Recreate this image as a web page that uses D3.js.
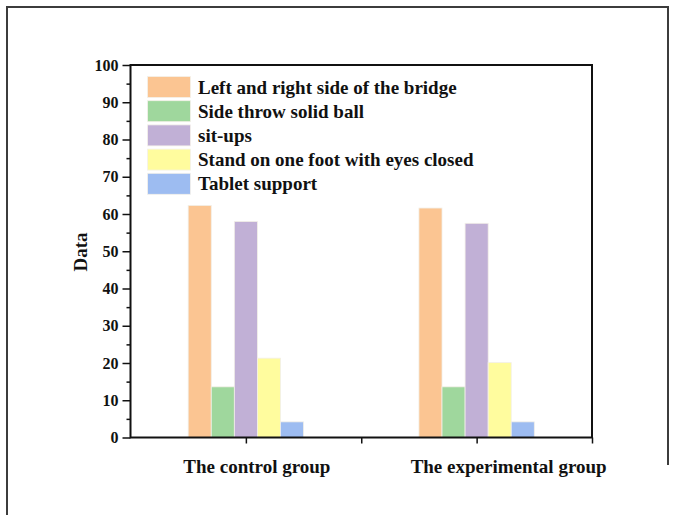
<!DOCTYPE html>
<html><head><meta charset="utf-8">
<script src="https://cdn.jsdelivr.net/npm/d3@7"></script>
<style>body{margin:0;background:#fff}svg{display:block}text{font-family:"Liberation Serif","Times New Roman",serif;font-weight:bold;fill:#111}</style>
</head><body><div id="chart"></div>
<script>
const groups = ["The control group", "The experimental group"];
const series = ["Left and right side of the bridge", "Side throw solid ball", "sit-ups", "Stand on one foot with eyes closed", "Tablet support"];
const colors = ["#FBC592", "#9FD79D", "#C1B0D6", "#FFFC9E", "#9DBCF1"];
const controlValues = [62.3, 13.6, 58.0, 21.3, 4.2];
const experimentalValues = [61.6, 13.6, 57.5, 20.1, 4.2];
const yTicks = [0, 10, 20, 30, 40, 50, 60, 70, 80, 90, 100];
const groupPositions = [1, 3];
const xTickPositions = [1, 2, 3, 4];
const values = [controlValues, experimentalValues];

const W = 675, H = 515;
const svg = d3.select("#chart").append("svg").attr("width", W).attr("height", H);

// outer frame
svg.append("path").attr("d", "M7,515 L7,7 L668,7 L668,465")
  .attr("fill", "none").attr("stroke", "#3c3c3c").attr("stroke-width", 2);

const L = 130.5, R = 592, T = 65, B = 437.5;
const x = d3.scaleLinear().domain([0, 4]).range([L, R]);
const y = d3.scaleLinear().domain([0, 100]).range([B, T]);
const barW = x(0.2) - x(0);

// bars
groups.forEach((g, gi) => {
  svg.append("g").selectAll("rect").data(values[gi]).join("rect")
    .attr("x", (d, i) => x(groupPositions[gi]) + (i - 2.5) * barW)
    .attr("y", d => y(d))
    .attr("width", barW)
    .attr("height", d => y(0) - y(d))
    .attr("fill", (d, i) => colors[i])
    .attr("stroke", "#f2efe8").attr("stroke-width", 0.8);
});

// y axis
const yAxis = d3.axisLeft(y).tickValues(yTicks).tickSize(8).tickPadding(4).tickFormat(d3.format("d"));
const ya = svg.append("g").attr("transform", `translate(${L},0)`).call(yAxis);
ya.select(".domain").remove();
ya.selectAll("line").attr("stroke", "#111").attr("stroke-width", 1.5);
ya.selectAll("text").style("font-size", "16px");
const yMinor = d3.axisLeft(y).tickValues(d3.range(5, 100, 10)).tickSize(4).tickFormat("");
const ym = svg.append("g").attr("transform", `translate(${L},0)`).call(yMinor);
ym.select(".domain").remove();
ym.selectAll("line").attr("stroke", "#111").attr("stroke-width", 1.5);

// x axis
const xAxis = d3.axisBottom(x).tickValues(xTickPositions).tickSize(6).tickFormat("");
const xa = svg.append("g").attr("transform", `translate(0,${B})`).call(xAxis);
xa.select(".domain").remove();
xa.selectAll("line").attr("stroke", "#111").attr("stroke-width", 1.5);

// frame
svg.append("rect").attr("x", L).attr("y", T).attr("width", R - L).attr("height", B - T)
  .attr("fill", "none").attr("stroke", "#111").attr("stroke-width", 2);

// x labels
const labelOffsets = [11, 32];
svg.selectAll(".xl").data(groups).join("text").attr("class", "xl")
  .attr("x", (d, i) => x(groupPositions[i]) + labelOffsets[i])
  .attr("y", 473).attr("text-anchor", "middle").style("font-size", "19px").text(d => d);

// y title
svg.append("text").attr("transform", "translate(87,252) rotate(-90)")
  .attr("text-anchor", "middle").style("font-size", "19px").text("Data");

// legend
const lg = svg.append("g");
series.forEach((s, i) => {
  const cy = 87.5 + i * 24.2;
  lg.append("rect").attr("x", 147.5).attr("y", cy - 11).attr("width", 43).attr("height", 21)
    .attr("fill", colors[i]).attr("stroke", "#f4f1ea").attr("stroke-width", 0.8);
  lg.append("text").attr("x", 198).attr("y", cy + 6).style("font-size", "19px").text(s);
});
</script></body></html>
